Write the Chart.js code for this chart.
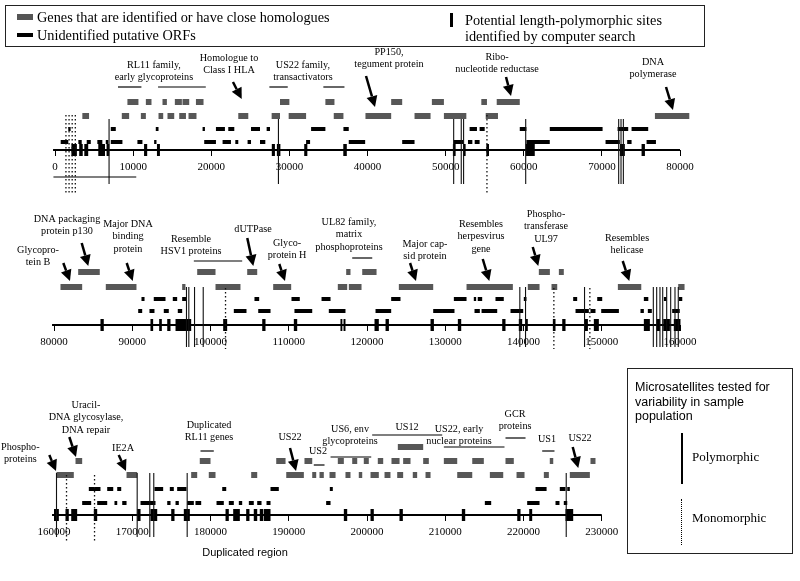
<!DOCTYPE html>
<html>
<head>
<meta charset="utf-8">
<script src="https://cdn.jsdelivr.net/npm/chart.js@4.4.1/dist/chart.umd.min.js"></script>
<style>
  body { margin: 0; background: #fff; }
  #page { position: relative; width: 800px; height: 581px; overflow: hidden; font-family: "Liberation Serif", serif; color: #000; }
  canvas { position: absolute; left: 0; }
  .box { position: absolute; border: 1.5px solid #222; box-sizing: border-box; }
  .abs { position: absolute; white-space: nowrap; }
</style>
</head>
<body>
<div id="page">
  <canvas id="panel1" width="800" height="200" style="top:0px"></canvas>
  <canvas id="panel2" width="800" height="200" style="top:175px"></canvas>
  <canvas id="panel3" width="800" height="216" style="top:365px"></canvas>

  <div class="box" style="left:5px;top:5px;width:700px;height:42px;font-size:14.3px;line-height:16px">
    <div class="abs" style="left:11px;top:8px;width:16px;height:6px;background:#555"></div>
    <div class="abs" style="left:31px;top:3px">Genes that are identified or have close homologues</div>
    <div class="abs" style="left:11px;top:27px;width:16px;height:4px;background:#000"></div>
    <div class="abs" style="left:31px;top:21px">Unidentified putative ORFs</div>
    <div class="abs" style="left:444px;top:7px;width:3px;height:14px;background:#000"></div>
    <div class="abs" style="left:459px;top:6px">Potential length-polymorphic sites</div>
    <div class="abs" style="left:459px;top:22px">identified by computer search</div>
  </div>

  <div class="box" style="left:627px;top:368px;width:166px;height:186px">
    <div class="abs" style="left:7px;top:11px;font-family:'Liberation Sans',sans-serif;font-size:12.5px;line-height:14.5px">Microsatellites tested for<br>variability in sample<br>population</div>
    <div class="abs" style="left:53px;top:64px;width:1.5px;height:51px;background:#000"></div>
    <div class="abs" style="left:64px;top:80px;font-size:13px">Polymorphic</div>
    <div class="abs" style="left:53px;top:130px;width:0;height:46px;border-left:1.5px dotted #000"></div>
    <div class="abs" style="left:64px;top:141px;font-size:13px">Monomorphic</div>
  </div>
</div>

<script>
// ---------- panel 1: 0 - 80000 ----------
const p1Ticks = [0, 10000, 20000, 30000, 40000, 50000, 60000, 70000, 80000];
const p1Span = [[-250, 80000]];
const p1GenesA = [[9270,10680],[11630,12350],[13760,14320],[15340,16240],[16320,17180],[18040,19010],[28800,30000],[34610,35770],[43030,44440],[48240,49780],[54570,55290],[56540,59490]];
const p1GenesB = [[3500,4360],[8550,9490],[10990,11630],[13250,13850],[14400,15260],[15900,16760],[17090,18110],[23460,24740],[27730,28800],[29910,32140],[35680,36920],[39740,43030],[46020,48070],[49780,52650],[55130,56700],[76790,81190]];
const p1OrfsC = [[1700,2000],[7140,7780],[12900,13250],[18890,19190],[20600,21750],[22180,22950],[25090,26240],[27090,27520],[32780,34610],[36920,37600],[53070,54010],[54350,55000],[59490,60340],[63330,70090],[72010,73370],[73800,75930]];
const p1OrfsD = [[730,1700],[2990,3420],[4060,4580],[5420,6060],[6500,6830],[7140,8630],[10550,11190],[12690,12990],[19100,20600],[21450,22520],[23080,23460],[24650,25090],[26240,26920],[32140,32650],[37600,39700],[44440,46020],[51020,52220],[52860,53420],[53720,54350],[60340,63330],[70470,72300],[73240,73800],[75720,76920]];
const p1Blocks = [[2100,2800],[3100,3550],[3750,4250],[5540,6400],[6600,6950],[11400,11800],[13050,13430],[27750,28150],[28400,28850],[31900,32300],[36900,37350],[50930,51280],[52220,52560],[55210,55550],[60250,61410],[72300,72940],[75080,75510]];
const p1Poly = [6920, 28600, 51030, 52000, 52300, 60250, 72150, 72450, 72750];
const p1Mono = [1400, 1800, 2200, 2600, 55290];

// ---------- panel 2: 80000 - 160000 ----------
const p2Ticks = [80000, 90000, 100000, 110000, 120000, 130000, 140000, 150000, 160000];
const p2Span = [[79750, 160000]];
const p2GenesA = [[83090,85850],[98300,100640],[104690,105970],[117340,117890],[119390,121220],[141960,143370],[144520,145150]];
const p2GenesB = [[80830,83600],[86620,90540],[96380,96800],[100640,103830],[108010,110310],[116270,117470],[117680,119300],[124070,128460],[132720,138640],[140550,142050],[143580,144310],[152060,155050],[159770,160580]];
const p2OrfsC = [[91180,91570],[92750,94250],[95180,95740],[96380,96890],[105620,106220],[110350,111410],[114190,115340],[123090,124280],[131100,132720],[133650,133950],[134150,134720],[136420,137480],[140040,140380],[146350,146860],[149420,150060],[155380,155950],[157940,158280],[159860,160290]];
const p2OrfsD = [[90760,91270],[92200,92840],[94030,94670],[95820,96380],[102980,104600],[106100,107670],[110730,113000],[115120,117250],[121090,123090],[128460,131180],[133740,134420],[134640,136640],[138340,139960],[146650,148350],[148560,149200],[149930,152190],[154950,155380],[155890,156400],[159000,159970]];
const p2Blocks = [[85940,86360],[92330,92670],[93440,93780],[94470,94890],[95530,97530],[101620,102130],[106610,107030],[110650,111080],[116610,116850],[117000,117250],[120960,121510],[122370,122800],[128120,128550],[131610,132040],[137280,137700],[139400,139830],[140260,140550],[143750,144090],[144950,145370],[147800,148230],[148990,149630],[155380,156150],[157010,157440],[157860,158710],[159210,160060]];
const p2Poly = [96930, 97230, 97960, 99070, 139530, 140260, 147800, 156590, 157020, 157440, 157790, 158300, 158810, 159360, 159780, 160220];
const p2Mono = [101920, 143880, 148480];

// ---------- panel 3: 160000 - 230000 ----------
const p3Ticks = [160000, 170000, 180000, 190000, 200000, 210000, 220000, 230000];
const p3Span = [[159750, 230000]];
const p3GenesTop = [[203940,207180]];
const p3GenesA = [[162750,163600],[178630,180000],[188400,189590],[192010,193000],[196270,197040],[198110,198750],[199590,200230],[201380,202070],[203130,204160],[204620,205560],[207180,207900],[209820,211530],[213450,214930],[217700,218760],[223360,223800],[228560,229200]];
const p3GenesB = [[160320,162530],[169270,170630],[177530,178300],[179780,180640],[185200,185970],[189680,191930],[193000,193510],[193930,194480],[195210,195980],[197250,197890],[198950,199390],[200450,201510],[202240,203000],[203860,204620],[205850,206410],[207480,208120],[211530,213450],[215700,217410],[219110,220130],[222600,223240],[225920,228480]];
const p3OrfsC = [[164450,165940],[166800,167570],[168080,168590],[172840,173950],[174800,175310],[175740,176930],[181500,182010],[187670,188730],[195250,195630],[221540,222950],[224640,225370],[225590,225920]];
const p3OrfsD = [[163600,164750],[165520,166800],[167730,168080],[168720,169270],[171060,172970],[174470,174890],[175530,175950],[177020,177870],[178080,178810],[180770,181700],[182340,182980],[183620,184050],[184900,185530],[185970,186520],[187160,187670],[194780,195340],[215060,215870],[220470,222050],[224090,224600],[225150,225590]];
const p3Blocks = [[160000,160620],[161470,161890],[162200,162960],[165090,165520],[170630,171060],[172330,173190],[174980,175400],[176590,177360],[181920,182340],[182900,183750],[184560,184980],[185530,185970],[186300,186730],[186810,187670],[197040,197470],[200450,200870],[204150,204580],[212120,212550],[219200,219620],[220730,221110],[225370,226350]];
const p3Poly = [160320, 170630, 172240, 172750, 177020, 225460];
const p3Mono = [161600, 165180];

// labels, arrows and family brackets (x in genome units, y in px above the axis)
const notes1 = {
  labels: [
    { x: 12670, y: 85, t: ['RL11 family,', 'early glycoproteins'] },
    { x: 22270, y: 92, t: ['Homologue to', 'Class I HLA'], a: [22780, 68, 23900, 51] },
    { x: 31740, y: 85, t: ['US22 family,', 'transactivators'] },
    { x: 42750, y: 98, t: ['PP150,', 'tegument protein'], a: [39810, 74, 40960, 43] },
    { x: 56580, y: 93, t: ['Ribo-', 'nucleotide reductase'], a: [57730, 73, 58370, 54] },
    { x: 76540, y: 88, t: ['DNA', 'polymerase'], a: [78210, 63, 79100, 40] }
  ],
  brackets: [[8060, 11060, 63], [13190, 19300, 63], [27440, 29790, 63], [34350, 37050, 63], [-200, 10400, -27]]
};
const notes2 = {
  labels: [
    { x: 77960, y: 75, t: ['Glycopro-', 'tein B'], a: [81190, 62, 82040, 44] },
    { x: 81660, y: 106, t: ['DNA packaging', 'protein p130'], a: [83540, 82, 84380, 59] },
    { x: 89460, y: 101, t: ['Major DNA', 'binding', 'protein'], a: [89290, 62, 90060, 44] },
    { x: 97510, y: 86, t: ['Resemble', 'HSV1 proteins'] },
    { x: 105430, y: 96, t: ['dUTPase'], a: [104700, 87, 105470, 59] },
    { x: 109780, y: 82, t: ['Glyco-', 'protein H'], a: [108790, 61, 109520, 44] },
    { x: 117700, y: 103, t: ['UL82 family,', 'matrix', 'phosphoproteins'] },
    { x: 127410, y: 81, t: ['Major cap-', 'sid protein'], a: [125500, 62, 126260, 44] },
    { x: 134570, y: 101, t: ['Resembles', 'herpesvirus', 'gene'], a: [134790, 66, 135630, 44] },
    { x: 142880, y: 111, t: ['Phospho-', 'transferase', 'UL97'], a: [141180, 78, 141890, 59] },
    { x: 153230, y: 87, t: ['Resembles', 'helicase'], a: [152680, 64, 153520, 44] }
  ],
  brackets: [[97870, 104050, 64], [118110, 120670, 67]]
};
const notes3 = {
  labels: [
    { x: 155700, y: 68, t: ['Phospho-', 'proteins'], a: [159400, 60, 160260, 44] },
    { x: 164090, y: 110, t: ['Uracil-', 'DNA glycosylase,', 'DNA repair'], a: [161960, 78, 162810, 58] },
    { x: 168820, y: 67, t: ['IE2A'], a: [168270, 60, 169200, 44] },
    { x: 179810, y: 90, t: ['Duplicated', 'RL11 genes'] },
    { x: 190160, y: 78, t: ['US22'], a: [190160, 67, 190930, 44] },
    { x: 193740, y: 64, t: ['US2'] },
    { x: 197830, y: 86, t: ['US6, env', 'glycoproteins'] },
    { x: 205110, y: 88, t: ['US12'] },
    { x: 211760, y: 86, t: ['US22, early', 'nuclear proteins'] },
    { x: 218920, y: 101, t: ['GCR', 'proteins'] },
    { x: 223010, y: 76, t: ['US1'] },
    { x: 227220, y: 77, t: ['US22'], a: [226290, 68, 227000, 47] },
    { x: 184410, y: -38, t: ['Duplicated region'], sans: true }
  ],
  brackets: [[178720, 180420, 64], [193200, 194570, 50], [195340, 200540, 58], [200660, 209610, 80], [209820, 217570, 68], [217700, 220260, 77], [222390, 223960, 64]]
};

function segs(list, y) {
  const pts = [];
  list.forEach(([s, e]) => pts.push({ x: s, y: y }, { x: e, y: y }, { x: e, y: null }));
  return pts;
}
function verts(list, top, bottom) {
  const pts = [];
  list.forEach(p => pts.push({ x: p, y: top }, { x: p, y: bottom }, { x: p, y: null }));
  return pts;
}
function ds(data, color, width, dash) {
  return { data: data, borderColor: color, backgroundColor: color, borderWidth: width, borderDash: dash || [],
           showLine: true, pointRadius: 0, clip: false, spanGaps: false, borderCapStyle: 'butt' };
}

const notesPlugin = {
  id: 'notes',
  afterDatasetsDraw(chart, args, opts) {
    const { ctx } = chart, x = chart.scales.x, y = chart.scales.y;
    ctx.save();
    ctx.fillStyle = '#000';
    ctx.strokeStyle = '#000';
    ctx.lineWidth = 1.2;
    opts.brackets.forEach(([s, e, lv]) => {
      ctx.beginPath();
      ctx.moveTo(x.getPixelForValue(s), y.getPixelForValue(lv));
      ctx.lineTo(x.getPixelForValue(e), y.getPixelForValue(lv));
      ctx.stroke();
    });
    ctx.textAlign = 'center';
    ctx.textBaseline = 'middle';
    opts.labels.forEach(n => {
      ctx.font = n.sans ? '11px "Liberation Sans"' : '10.2px "Liberation Serif"';
      n.t.forEach((line, i) => ctx.fillText(line, x.getPixelForValue(n.x), y.getPixelForValue(n.y - i * 12.5)));
      if (n.a) {
        const x1 = x.getPixelForValue(n.a[0]), y1 = y.getPixelForValue(n.a[1]);
        const x2 = x.getPixelForValue(n.a[2]), y2 = y.getPixelForValue(n.a[3]);
        const ang = Math.atan2(y2 - y1, x2 - x1), hl = 11, hw = 5.5;
        const bx = x2 - hl * Math.cos(ang), by = y2 - hl * Math.sin(ang);
        ctx.lineWidth = 2.5;
        ctx.beginPath(); ctx.moveTo(x1, y1); ctx.lineTo(bx, by); ctx.stroke();
        ctx.beginPath();
        ctx.moveTo(x2, y2);
        ctx.lineTo(bx + hw * Math.sin(ang), by - hw * Math.cos(ang));
        ctx.lineTo(bx - hw * Math.sin(ang), by + hw * Math.cos(ang));
        ctx.closePath(); ctx.fill();
      }
    });
    ctx.restore();
  }
};

const GREY = '#575757';

function panel(id, p) {
  new Chart(document.getElementById(id), {
    type: 'scatter',
    data: {
      datasets: [
        ds(verts(p.poly, p.vPoly[0], p.vPoly[1]), '#111', 1.1),
        ds(verts(p.mono, p.vMono[0], p.vMono[1]), '#111', 1.3, [1.5, 2.5]),
        ds(segs(p.blocks, 0), '#000', 12),
        ds(segs(p.span, 0), '#000', 2),
        ds(segs(p.orfsD, p.rows.D), '#000', 4),
        ds(segs(p.orfsC, p.rows.C), '#000', 4),
        ds(segs(p.genesB, p.rows.B), GREY, 6),
        ds(segs(p.genesA, p.rows.A), GREY, 6),
        ds(segs(p.genesTop || [], p.rows.T || 0), GREY, 6)
      ]
    },
    options: {
      responsive: false,
      animation: false,
      layout: { padding: { left: p.left, right: 120, top: 0, bottom: p.bottom } },
      plugins: { legend: { display: false }, tooltip: { enabled: false }, notes: p.notes },
      scales: {
        x: {
          type: 'linear', min: p.min, max: p.max,
          border: { display: false },
          grid: { drawOnChartArea: false, tickLength: 6, color: '#000', lineWidth: 1 },
          ticks: { color: '#000', padding: 5, maxRotation: 0, autoSkip: false,
                   font: { family: 'Liberation Serif', size: 11 }, callback: v => String(v) },
          afterBuildTicks: s => { s.ticks = p.ticks.map(v => ({ value: v })); },
          afterFit: s => { s.height = 30; }
        },
        y: { type: 'linear', display: false, min: 0, max: 150 }
      }
    },
    plugins: [notesPlugin]
  });
}

panel('panel1', { left: 55, bottom: 20, min: 0, max: 80000, ticks: p1Ticks, span: p1Span,
  genesA: p1GenesA, genesB: p1GenesB, orfsC: p1OrfsC, orfsD: p1OrfsD, blocks: p1Blocks,
  poly: p1Poly, mono: p1Mono, vPoly: [31, -34], vMono: [35, -44],
  rows: { A: 48, B: 34, C: 21, D: 8 }, notes: notes1 });

panel('panel2', { left: 54, bottom: 20, min: 80000, max: 160000, ticks: p2Ticks, span: p2Span,
  genesA: p2GenesA, genesB: p2GenesB, orfsC: p2OrfsC, orfsD: p2OrfsD, blocks: p2Blocks,
  poly: p2Poly, mono: p2Mono, vPoly: [38, -22], vMono: [37, -24],
  rows: { A: 53, B: 38, C: 26, D: 14 }, notes: notes2 });

panel('panel3', { left: 54, bottom: 36, min: 160000, max: 240000, ticks: p3Ticks, span: p3Span,
  genesTop: p3GenesTop, genesA: p3GenesA, genesB: p3GenesB, orfsC: p3OrfsC, orfsD: p3OrfsD, blocks: p3Blocks,
  poly: p3Poly, mono: p3Mono, vPoly: [42, -22], vMono: [40, -28],
  rows: { T: 68, A: 54, B: 40, C: 26, D: 12 }, notes: notes3 });
</script>
</body>
</html>
